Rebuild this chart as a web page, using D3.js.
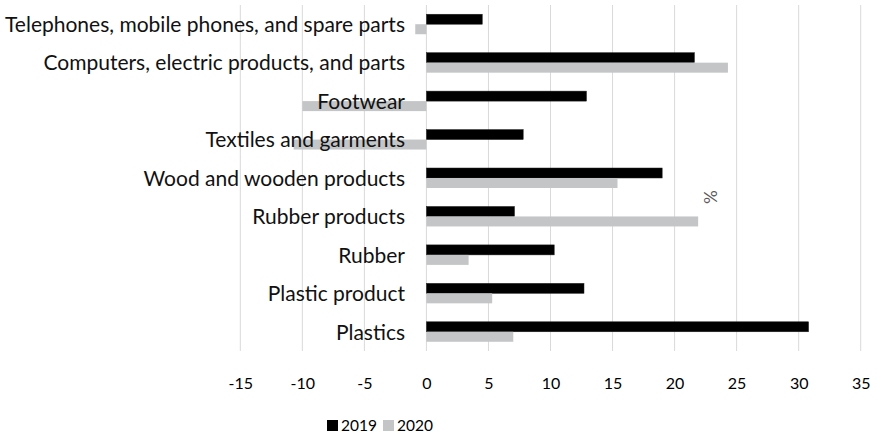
<!DOCTYPE html>
<html><head><meta charset="utf-8">
<script src="https://cdn.jsdelivr.net/npm/d3@7"></script>
<style>body{margin:0;background:#fff}svg{display:block}</style>
</head><body>
<svg id="c" width="877" height="438"></svg>
<script>
const categories = [
  "Telephones, mobile phones, and spare parts",
  "Computers, electric products, and parts",
  "Footwear",
  "Textiles and garments",
  "Wood and wooden products",
  "Rubber products",
  "Rubber",
  "Plastic product",
  "Plastics"
];
const values2019 = [4.5, 21.6, 12.9, 7.8, 19.0, 7.1, 10.3, 12.7, 30.8];
const values2020 = [-0.9, 24.3, -10.0, -10.7, 15.4, 21.9, 3.4, 5.3, 7.0];
const seriesNames = ["2019", "2020"];
const xTicks = [-15, -10, -5, 0, 5, 10, 15, 20, 25, 30, 35];
const axisTitle = "%";

const colors = ["#000000", "#c4c5c7"];
const font = "Lato, sans-serif";
const svg = d3.select("#c");
const x = d3.scaleLinear().domain([-15, 35]).range([240.3, 860.7]);
const y = d3.scaleBand().domain(categories).range([5, 351]).paddingInner(0.48).paddingOuter(0.24);
const ySub = d3.scaleBand().domain(seriesNames).range([0, y.bandwidth()]);

// gridlines
svg.append("g").selectAll("line").data(xTicks).join("line")
  .attr("x1", d => x(d)).attr("x2", d => x(d))
  .attr("y1", 5).attr("y2", 351)
  .attr("stroke", "#d9d9d9").attr("stroke-width", 1);

// x axis labels
const xAxis = d3.axisBottom(x).tickValues(xTicks).tickFormat(d => String(d)).tickSize(0).tickPadding(0);
const gx = svg.append("g").attr("transform", "translate(0,383)").call(xAxis);
gx.select(".domain").remove();
gx.selectAll("text").attr("font-family", font).attr("font-size", 16).attr("fill", "#000").attr("dy", "0.35em");

const series = [values2019, values2020];
series.forEach((vals, si) => {
  svg.append("g").selectAll("rect").data(vals).join("rect")
    .attr("x", d => x(Math.min(0, d)))
    .attr("width", d => Math.abs(x(d) - x(0)))
    .attr("y", (d, i) => y(categories[i]) + ySub(seriesNames[si]))
    .attr("height", ySub.bandwidth())
    .attr("fill", colors[si])
    .attr("stroke", si === 0 ? "#222" : "none").attr("stroke-width", 0.5);
});

// category labels
const yAxis = d3.axisLeft(y).tickSize(0).tickPadding(0);
const gy = svg.append("g").attr("transform", "translate(405,1)").call(yAxis);
gy.select(".domain").remove();
gy.selectAll("text").attr("font-family", font).attr("font-size", 21).attr("fill", "#111");

// axis title
svg.append("text").attr("transform", "translate(710,197) rotate(90)")
  .attr("text-anchor", "middle").attr("dy", "0.35em")
  .attr("font-family", font).attr("font-size", 17).attr("fill", "#595959").text(axisTitle);

// legend
const legend = svg.append("g").attr("transform", "translate(327,426)");
const lx = [0, 56];
seriesNames.forEach((s, i) => {
  const g = legend.append("g").attr("transform", `translate(${lx[i]},0)`);
  g.append("rect").attr("x", 0).attr("y", -6).attr("width", 11).attr("height", 11).attr("fill", colors[i]);
  g.append("text").attr("x", 14).attr("dy", "0.35em").attr("font-family", font).attr("font-size", 15.5).attr("fill", "#000").text(s);
});
</script>
</body></html>
